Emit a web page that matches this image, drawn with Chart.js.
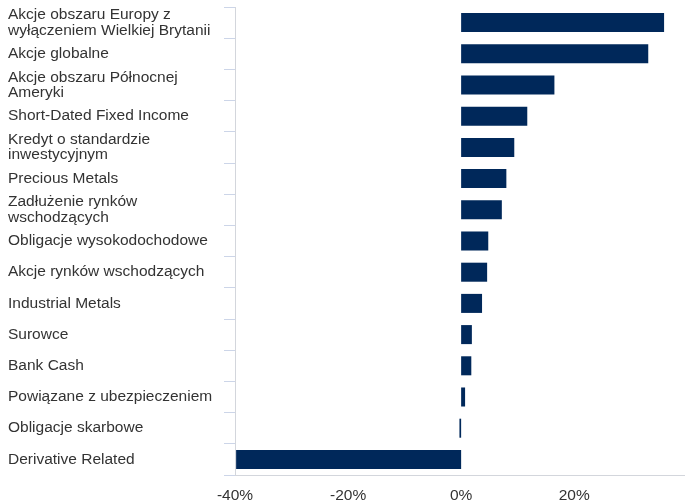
<!DOCTYPE html>
<html>
<head>
<meta charset="utf-8">
<script src="https://cdn.jsdelivr.net/npm/chart.js@4"></script>
<style>
  html, body { margin: 0; padding: 0; background: #fff; }
  #wrap { width: 685px; height: 501px; }
</style>
</head>
<body>
<div id="wrap"><canvas id="barChart"></canvas></div>
<script>
// categories and values (%)
const categories = [
    ['Akcje obszaru Europy z', 'wyłączeniem Wielkiej Brytanii'],
    'Akcje globalne',
    ['Akcje obszaru Północnej', 'Ameryki'],
    'Short-Dated Fixed Income',
    ['Kredyt o standardzie', 'inwestycyjnym'],
    'Precious Metals',
    ['Zadłużenie rynków', 'wschodzących'],
    'Obligacje wysokodochodowe',
    'Akcje rynków wschodzących',
    'Industrial Metals',
    'Surowce',
    'Bank Cash',
    'Powiązane z ubezpieczeniem',
    'Obligacje skarbowe',
    'Derivative Related'
];
const values = [35.9, 33.1, 16.5, 11.7, 9.4, 8.0, 7.2, 4.8, 4.6, 3.7, 1.9, 1.8, 0.7, -0.3, -39.8];
const xTicks = [-40, -20, 0, 20];

const ctx = document.getElementById('barChart').getContext('2d');

new Chart(ctx, {
    type: 'bar',
    data: {
        labels: categories,
        datasets: [{
            data: values,
            backgroundColor: '#00285a',
            barPercentage: 0.61,
            categoryPercentage: 1.0
        }]
    },
    options: {
        indexAxis: 'y',
        responsive: true,
        maintainAspectRatio: false,
        animation: false,
        layout: { padding: { left: 8, top: 7, right: 0, bottom: 0 } },
        plugins: {
            legend: { display: false },
            tooltip: { enabled: false }
        },
        scales: {
            x: {
                min: -40,
                max: 39.6,
                afterBuildTicks: scale => {
                    scale.ticks = xTicks.map(v => ({ value: v }));
                },
                afterFit: scale => { scale.height = 26; },
                ticks: {
                    color: '#333',
                    font: { family: 'Liberation Sans, Arial', size: 15.5 },
                    padding: 3,
                    callback: v => v + '%'
                },
                grid: { display: false },
                border: { display: true, color: '#d3d6dc' }
            },
            y: {
                afterFit: scale => {
                    scale.width = 227;
                    scale.paddingTop = 0;
                    scale.paddingBottom = 0;
                },
                ticks: {
                    autoSkip: false,
                    color: '#333',
                    crossAlign: 'far',
                    padding: 4,
                    font: { family: 'Liberation Sans, Arial', size: 15.5, lineHeight: 1.0 }
                },
                grid: {
                    drawOnChartArea: false,
                    drawTicks: true,
                    tickLength: 11,
                    offset: true,
                    color: '#ccd5e8'
                },
                border: { display: true, color: '#d3d6dc' }
            }
        }
    }
});
</script>
</body>
</html>
